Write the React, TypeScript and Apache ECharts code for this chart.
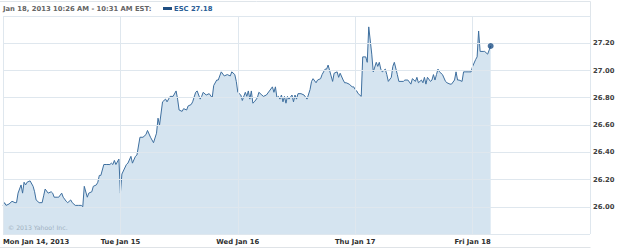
import React, { useEffect, useRef } from "react";
import * as echarts from "echarts";

const DAY_LABELS = ["Mon Jan 14, 2013", "Tue Jan 15", "Wed Jan 16", "Thu Jan 17", "Fri Jan 18"];
const SLOTS_PER_DAY = 78; // 5-minute intervals in a trading day
const Y_TICKS_MIN = 25.8;
const Y_TICKS_MAX = 27.4;
const Y_STEP = 0.2;

// [5-minute slot within day, price]
const mon: [number, number][] = [[0,26.01],[1,26.03],[2,26.01],[4,26.02],[6,26.04],[8,26.03],[9,26.03],[10,26.10],[12,26.16],[13,26.10],[14,26.18],[15,26.16],[16,26.18],[18,26.19],[20,26.15],[21,26.11],[22,26.05],[24,26.03],[26,26.03],[27,26.08],[28,26.13],[30,26.10],[32,26.11],[33,26.10],[34,26.07],[36,26.07],[37,26.07],[39,26.10],[40,26.07],[42,26.04],[43,26.03],[45,26.05],[46,26.03],[48,26.01],[50,26.01],[52,26.01],[53,26.00],[54,26.15],[56,26.07],[57,26.10],[59,26.11],[60,26.15],[62,26.16],[63,26.18],[64,26.23],[65,26.23],[67,26.31],[69,26.31],[71,26.31],[72,26.32],[73,26.31],[74,26.34],[75,26.31],[77,26.35]];
const tue: [number, number][] = [[0,26.10],[1,26.24],[4,26.31],[5,26.32],[7,26.37],[8,26.32],[10,26.37],[11,26.38],[13,26.51],[15,26.51],[17,26.53],[18,26.56],[20,26.51],[22,26.47],[24,26.54],[25,26.65],[26,26.60],[28,26.77],[30,26.79],[31,26.77],[33,26.81],[35,26.81],[37,26.85],[38,26.79],[39,26.71],[41,26.70],[42,26.72],[44,26.71],[45,26.74],[47,26.75],[48,26.77],[50,26.84],[51,26.85],[53,26.79],[54,26.81],[55,26.84],[57,26.82],[59,26.83],[61,26.80],[62,26.89],[64,26.93],[65,26.93],[67,26.99],[69,26.96],[71,26.97],[73,26.96],[74,26.99],[76,26.97],[77,26.92]];
const wed: [number, number][] = [[0,26.84],[2,26.82],[3,26.78],[5,26.84],[6,26.81],[7,26.85],[8,26.79],[9,26.85],[10,26.76],[11,26.77],[13,26.80],[14,26.84],[16,26.82],[17,26.81],[19,26.82],[21,26.85],[23,26.88],[24,26.84],[25,26.88],[26,26.80],[27,26.81],[28,26.79],[29,26.82],[30,26.77],[31,26.81],[32,26.76],[33,26.81],[34,26.79],[36,26.82],[37,26.77],[38,26.82],[39,26.79],[40,26.83],[42,26.83],[44,26.82],[46,26.79],[48,26.86],[49,26.92],[50,26.94],[52,26.91],[53,26.93],[55,26.94],[56,26.97],[58,27.01],[59,27.01],[60,27.04],[62,26.96],[63,26.92],[64,26.98],[66,26.99],[67,26.95],[68,26.98],[70,26.93],[71,26.91],[72,26.91],[74,26.90],[76,26.88],[77,26.88]];
const thu: [number, number][] = [[0,26.86],[1,26.85],[2,26.83],[4,26.81],[5,27.10],[7,27.10],[8,27.06],[9,27.32],[11,27.12],[12,26.99],[14,27.06],[15,27.03],[16,27.06],[17,27.01],[18,26.99],[20,27.01],[21,26.97],[22,26.92],[24,26.95],[25,27.03],[26,27.06],[28,26.97],[29,26.92],[32,26.92],[33,26.93],[35,26.93],[37,26.90],[38,26.94],[40,26.92],[41,26.95],[42,26.91],[44,26.93],[45,26.91],[46,26.95],[47,26.90],[48,26.95],[50,26.92],[51,26.93],[52,26.97],[53,26.93],[54,26.97],[55,27.01],[56,26.99],[58,26.97],[60,26.92],[61,26.91],[63,26.90],[64,26.90],[66,26.93],[67,26.99],[68,26.93],[69,26.93],[71,26.92],[72,26.99],[73,26.99],[75,26.99],[77,26.99]];
const fri: [number, number][] = [[0,27.03],[2,27.08],[3,27.10],[4,27.29],[5,27.14],[7,27.14],[8,27.14],[10,27.12],[12,27.18]];

const DAYS = [mon, tue, wed, thu, fri];

const HEADER = "Jan 18, 2013 10:26 AM - 10:31 AM EST:";
const LEGEND_TEXT = "ESC 27.18";
const COPYRIGHT = "\u00a9 2013 Yahoo! Inc.";

const FONT = "DejaVu Sans, Verdana, sans-serif";

export default function App() {
  const ref = useRef<HTMLDivElement>(null);
  useEffect(() => {
    if (!ref.current) return;
    const chart = echarts.init(ref.current, undefined, { renderer: "svg" });
    const series: [number, number][] = [];
    DAYS.forEach((d, i) => d.forEach(([s, v]) => series.push([i * SLOTS_PER_DAY + s, v])));
    const last = series[series.length - 1];
    chart.setOption({
      animation: false,
      backgroundColor: "#ffffff",
      grid: { left: 3, right: 35, top: 16, bottom: 14, containLabel: false },
      xAxis: {
        type: "value",
        min: 0,
        max: SLOTS_PER_DAY * 5,
        interval: SLOTS_PER_DAY,
        z: 3,
        axisLine: { show: false },
        axisTick: { show: false },
        splitLine: { show: true, lineStyle: { color: "#dfe7ee", width: 1 } },
        axisLabel: {
          margin: 4,
          fontSize: 6.8,
          fontWeight: "bold",
          color: "#2e2e2e",
          fontFamily: FONT,
          alignMinLabel: "left",
          formatter: (v: number) => DAY_LABELS[Math.round(v / SLOTS_PER_DAY)] ?? "",
        },
      },
      yAxis: {
        type: "value",
        position: "right",
        min: Y_TICKS_MIN,
        max: Y_TICKS_MAX,
        interval: Y_STEP,
        z: 3,
        axisLine: { show: false },
        axisTick: { show: false },
        splitLine: { show: true, lineStyle: { color: "#dfe7ee", width: 1 } },
        axisLabel: {
          margin: 3,
          fontSize: 6.8,
          fontWeight: "bold",
          color: "#404040",
          fontFamily: FONT,
          showMinLabel: false,
          showMaxLabel: false,
          formatter: (v: number) => v.toFixed(2),
        },
      },
      series: [
        {
          type: "line",
          name: "ESC",
          data: series,
          symbol: "none",
          z: 2,
          lineStyle: { color: "#3e6f9f", width: 1 },
          areaStyle: { color: "#d5e4f0", opacity: 1 },
        },
        {
          type: "scatter",
          data: [last],
          symbol: "circle",
          symbolSize: 6,
          z: 4,
          itemStyle: { color: "#1d4f86" },
        },
      ],
      graphic: [
        { type: "line", shape: { x1: 0, y1: 1.5, x2: 590.5, y2: 1.5 }, style: { stroke: "#dfe5ea", lineWidth: 1 } },
        { type: "line", shape: { x1: 590.5, y1: 1.5, x2: 590.5, y2: 16 }, style: { stroke: "#dfe5ea", lineWidth: 1 } },
        { type: "line", shape: { x1: 0, y1: 247.5, x2: 590.5, y2: 247.5 }, style: { stroke: "#dfe3e7", lineWidth: 1 } },
        {
          type: "text",
          x: 3,
          y: 8.5,
          style: { text: HEADER, fill: "#666666", font: `bold 6.8px ${FONT}`, verticalAlign: "middle" },
        },
        { type: "rect", shape: { x: 163, y: 7, width: 9, height: 3 }, style: { fill: "#1f4e82" } },
        {
          type: "text",
          x: 174,
          y: 8.5,
          style: { text: LEGEND_TEXT, fill: "#2b5d95", font: `bold 6.8px ${FONT}`, verticalAlign: "middle" },
        },
        {
          type: "text",
          x: 8,
          y: 227.5,
          z: 10,
          style: { text: COPYRIGHT, fill: "#9fb0bf", font: `6.2px ${FONT}`, verticalAlign: "middle" },
        },
      ],
    });
    return () => chart.dispose();
  }, []);
  return (
    <div
      ref={ref}
      style={{ position: "fixed", left: 0, top: 0, width: 625, height: 248 }}
    />
  );
}
